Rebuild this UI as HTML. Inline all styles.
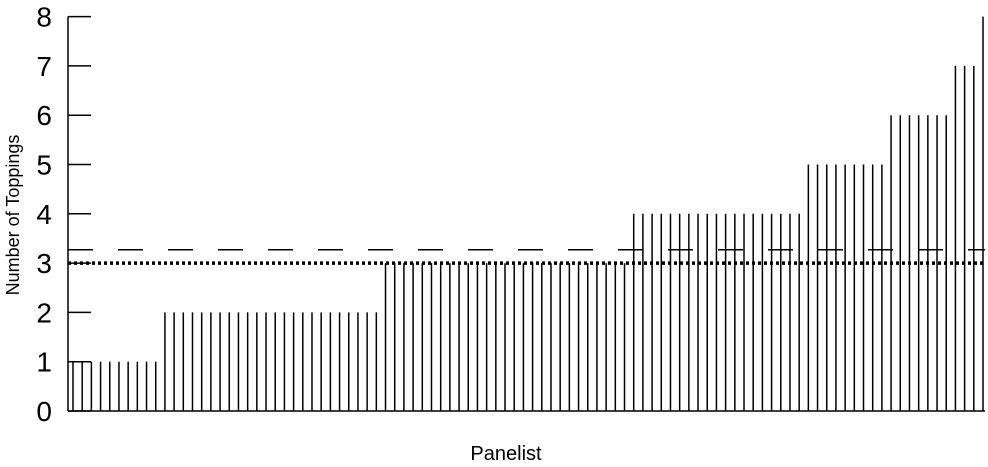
<!DOCTYPE html>
<html><head><meta charset="utf-8"><style>
html,body{margin:0;padding:0;background:#fff;}
svg{display:block;font-family:"Liberation Sans",sans-serif;}
</style></head><body>
<svg id="chart" width="988" height="467"></svg>
<script>
const tickLabels=[0,1,2,3,4,5,6,7,8];
const valueLevels=[1,2,3,4,5,6,7,8];
const levelCounts=[10,24,27,19,9,7,3,1];
const meanValue=3.27;
const medianValue=3;
const svg=document.getElementById('chart');
const NS='http://www.w3.org/2000/svg';
const x0=68,x1=985,y0=411,unit=49.3;
const yS=v=>y0-v*unit;
const values=[];
valueLevels.forEach((v,i)=>{for(let k=0;k<levelCounts[i];k++)values.push(v);});
const n=values.length;
const xS=i=>73+i*(983-73)/(n-1);
function mk(tag,attrs){const e=document.createElementNS(NS,tag);for(const k in attrs)e.setAttribute(k,attrs[k]);svg.appendChild(e);return e;}
values.forEach((v,i)=>{
  const l=mk('line',{x1:xS(i),x2:xS(i),y1:y0,y2:yS(v),stroke:'#000','stroke-width':1.5});
  
  
});
let a=mk('line',{x1:x0,x2:x0,y1:yS(8),y2:y0,stroke:'#000','stroke-width':1.5});

a=mk('line',{x1:x0,x2:x1,y1:y0,y2:y0,stroke:'#000','stroke-width':1.5});

tickLabels.forEach(t=>{
  const tk=mk('line',{x1:x0,x2:x0+23,y1:yS(t),y2:yS(t),stroke:'#000','stroke-width':1.5});
  
  const tx=mk('text',{x:52,y:yS(t)+10,'text-anchor':'end','font-size':28});
  tx.textContent=t;
  
});
let m=mk('line',{x1:x0,x2:x1,y1:yS(meanValue),y2:yS(meanValue),stroke:'#000','stroke-width':1.5,'stroke-dasharray':'25 25'});

m=mk('line',{x1:x0,x2:x1,y1:yS(medianValue),y2:yS(medianValue),stroke:'#000','stroke-width':3.5,'stroke-dasharray':'3 3'});

let t=mk('text',{x:19,y:215,'text-anchor':'middle','font-size':18,transform:'rotate(-90 19 215)'});
t.textContent='Number of Toppings';

t=mk('text',{x:506,y:460,'text-anchor':'middle','font-size':20});
t.textContent='Panelist';

</script>
</body></html>
